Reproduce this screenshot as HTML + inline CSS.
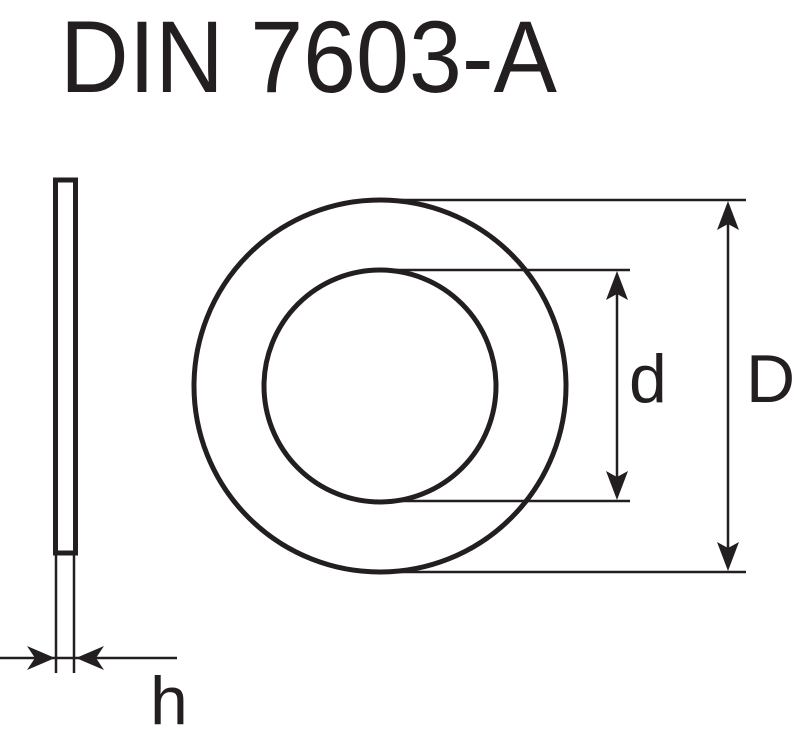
<!DOCTYPE html>
<html><head><style>
html,body{margin:0;padding:0;background:#fff;}
svg{display:block;}
</style></head><body>
<svg width="800" height="744" viewBox="0 0 800 744" xmlns="http://www.w3.org/2000/svg">
<text x="60" y="92" font-family="Liberation Sans, sans-serif" font-size="102" fill="#231f20" textLength="497" lengthAdjust="spacingAndGlyphs">DIN 7603-A</text>
<g stroke="#231f20" fill="none">
<rect x="55.5" y="180" width="20" height="373" stroke-width="5"/>
<line x1="56" y1="553" x2="56" y2="673" stroke-width="2.5"/>
<line x1="74" y1="553" x2="74" y2="673" stroke-width="2.5"/>
<line x1="0" y1="658" x2="177" y2="658" stroke-width="2.5"/>
<circle cx="380" cy="386" r="186" stroke-width="5"/>
<circle cx="380" cy="386" r="116" stroke-width="5"/>
<line x1="400" y1="200" x2="746" y2="200" stroke-width="2.5"/>
<line x1="400" y1="572" x2="746" y2="572" stroke-width="2.5"/>
<line x1="380" y1="270" x2="630" y2="270" stroke-width="2.5"/>
<line x1="380" y1="501" x2="630" y2="501" stroke-width="2.5"/>
<line x1="728" y1="210" x2="728" y2="562" stroke-width="2.5"/>
<line x1="617" y1="280" x2="617" y2="491" stroke-width="2.5"/>
</g>
<g fill="#231f20">
<polygon points="55,658 27,646 35,658 27,670"/>
<polygon points="76,658 104,646 96,658 104,670"/>
<polygon points="728,201 717,230 728,224 739,230"/>
<polygon points="728,571 717,542 728,548 739,542"/>
<polygon points="617,271 606,300 617,294 628,300"/>
<polygon points="617,500 606,471 617,477 628,471"/>
</g>
<g font-family="Liberation Sans, sans-serif" fill="#231f20" font-size="68">
<text x="150" y="724">h</text>
<text x="629" y="402">d</text>
<text x="746" y="402">D</text>
</g>
</svg>
</body></html>
